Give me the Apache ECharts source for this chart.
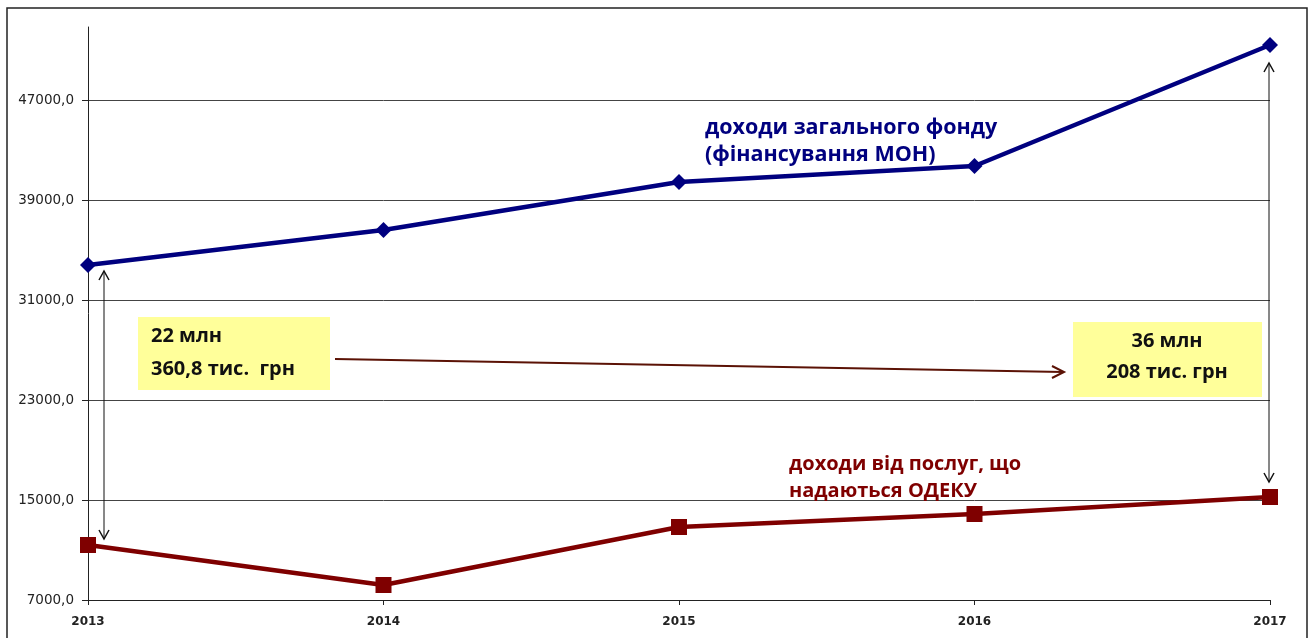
<!DOCTYPE html>
<html>
<head>
<meta charset="utf-8">
<script src="https://cdn.jsdelivr.net/npm/echarts@6/dist/echarts.min.js"></script>
<style>html,body{margin:0;padding:0;background:#fff}#c{width:1314px;height:638px}</style>
</head>
<body>
<div id="c"></div>
<script>
const years = ['2013', '2014', '2015', '2016', '2017'];
const generalFund = [33800, 36600, 40440, 41720, 51400];
const services = [11400, 8200, 12840, 13880, 15240];
const yTicks = { min: 7000, max: 52840, interval: 8000 };
const note2013 = ['22 млн', '360,8 тис.  грн'];
const note2017 = ['36 млн', '208 тис. грн'];
const blueLabel = 'доходи загального фонду\n(фінансування МОН)';
const redLabel = 'доходи від послуг, що\nнадаються ОДЕКУ';

const BLUE = '#00007f';
const RED = '#7f0000';
const FONT = '"Open Sans", sans-serif';

const chart = echarts.init(document.getElementById('c'));
chart.setOption({
  animation: false,
  backgroundColor: '#fff',
  grid: { left: 88, right: 44, top: 27, bottom: 38 },
  xAxis: {
    type: 'category', data: years, boundaryGap: false,
    axisLine: { lineStyle: { color: '#222', width: 1 } },
    axisTick: { show: true, length: 5, lineStyle: { color: '#222' } },
    axisLabel: { color: '#222', fontFamily: 'DejaVu Sans', fontWeight: 'bold', fontSize: 12, margin: 16 },
    splitLine: { show: false }
  },
  yAxis: {
    type: 'value', min: yTicks.min, max: yTicks.max, interval: yTicks.interval,
    axisLine: { show: true, lineStyle: { color: '#222', width: 1 } },
    axisTick: { show: true, length: 6, lineStyle: { color: '#222' } },
    axisLabel: { color: '#222', fontFamily: 'DejaVu Sans', fontSize: 13.5, margin: 14, showMaxLabel: false,
      formatter: v => v.toFixed(1).replace('.', ',') },
    splitLine: { show: true, showMaxLine: false, showMinLine: false, lineStyle: { color: '#444', width: 1 } }
  },
  series: [
    { type: 'line', data: generalFund, symbol: 'diamond', symbolSize: 16,
      lineStyle: { color: BLUE, width: 4.5 }, itemStyle: { color: BLUE }, z: 3 },
    { type: 'line', data: services, symbol: 'rect', symbolSize: 16,
      lineStyle: { color: RED, width: 4.5 }, itemStyle: { color: RED }, z: 3 }
  ]
});

function px(cat, val) { return chart.convertToPixel({ gridIndex: 0 }, [cat, val]); }
function vArrow(x, y1, y2) {
  const h = 9, w = 5;
  return [
    { type: 'line', shape: { x1: x, y1: y1, x2: x, y2: y2 }, style: { stroke: '#111', lineWidth: 1 }, z: 10 },
    { type: 'polyline', shape: { points: [[x - w, y1 + h], [x, y1], [x + w, y1 + h]] }, style: { stroke: '#111', lineWidth: 1.5, fill: null }, z: 10 },
    { type: 'polyline', shape: { points: [[x - w, y2 - h], [x, y2], [x + w, y2 - h]] }, style: { stroke: '#111', lineWidth: 1.5, fill: null }, z: 10 }
  ];
}
const b0 = px(years[0], generalFund[0]), r0 = px(years[0], services[0]);
const b4 = px(years[4], generalFund[4]), r4 = px(years[4], services[4]);

const graphics = [
  { type: 'rect', shape: { x: 7, y: 8, width: 1300, height: 640 }, style: { stroke: '#222', lineWidth: 1.5, fill: null }, silent: true, z: 0 },
  ...vArrow(b0[0] + 16, b0[1] + 6, r0[1] - 6),
  ...vArrow(b4[0] - 1, b4[1] + 18, r4[1] - 15),
  { type: 'rect', shape: { x: 138, y: 317, width: 192, height: 73 }, style: { fill: '#ffff9a' }, z: 5 },
  { type: 'text', x: 151, y: 320, style: { text: note2013.join('\n'), font: 'bold 20px ' + FONT, fill: '#111', lineHeight: 33 }, z: 6 },
  { type: 'rect', shape: { x: 1073, y: 322, width: 189, height: 75 }, style: { fill: '#ffff9a' }, z: 5 },
  { type: 'text', x: 1167, y: 326, style: { text: note2017.join('\n'), font: 'bold 20px ' + FONT, fill: '#111', lineHeight: 31, align: 'center' }, z: 6 },
  { type: 'line', shape: { x1: 335, y1: 359, x2: 1063, y2: 372 }, style: { stroke: '#5b1205', lineWidth: 2 }, z: 6 },
  { type: 'polyline', shape: { points: [[1052, 366], [1064, 372], [1052, 378]] }, style: { stroke: '#5b1205', lineWidth: 2, fill: null }, z: 6 },
  { type: 'text', x: 705, y: 114, style: { text: blueLabel, font: 'bold 21.5px ' + FONT, fill: BLUE, lineHeight: 27 }, z: 6 },
  { type: 'text', x: 789, y: 451, style: { text: redLabel, font: 'bold 20px ' + FONT, fill: RED, lineHeight: 27 }, z: 6 }
];
chart.setOption({ graphic: graphics });
</script>
</body>
</html>
